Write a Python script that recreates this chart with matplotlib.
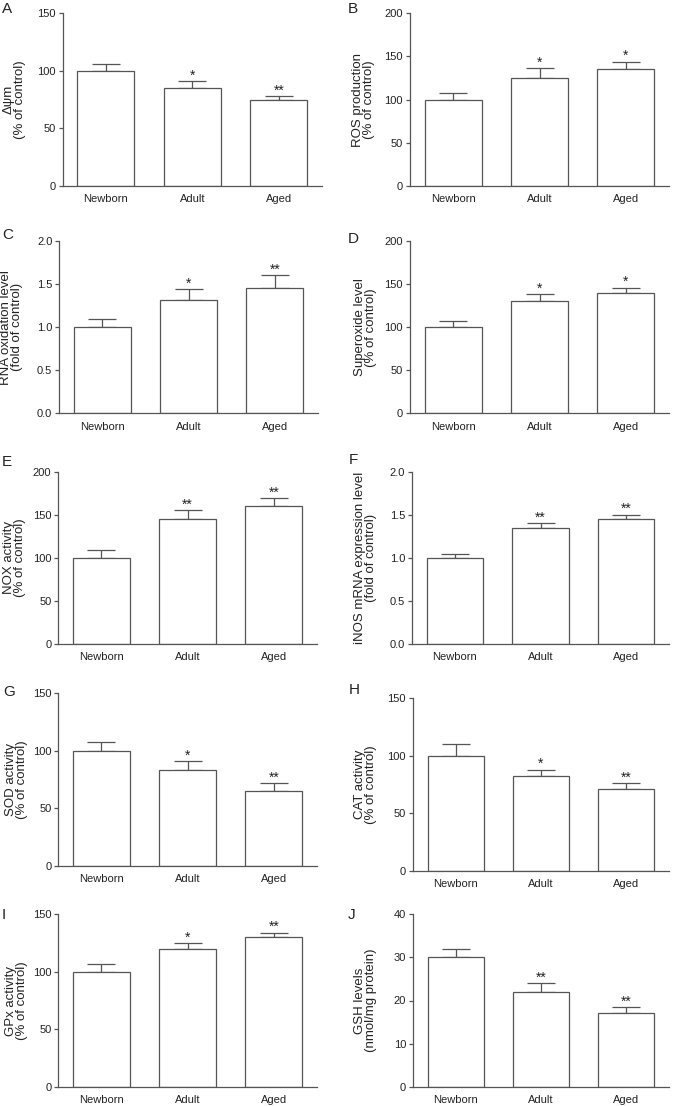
import matplotlib
matplotlib.use("Agg")
import matplotlib.pyplot as plt
import numpy as np

plt.rcParams["font.family"] = ["Liberation Sans", "DejaVu Sans"]

groups = ["Newborn", "Adult", "Aged"]

# panel A: mitochondrial membrane potential
mmp_mean = [100, 85, 75]
mmp_err = [6, 6, 3]
mmp_sig = ["", "*", "**"]
# panel B: ROS production
ros_mean = [100, 125, 135]
ros_err = [8, 11, 9]
ros_sig = ["", "*", "*"]
# panel C: RNA oxidation
rna_mean = [1.0, 1.32, 1.45]
rna_err = [0.10, 0.12, 0.15]
rna_sig = ["", "*", "**"]
# panel D: superoxide
sup_mean = [100, 130, 140]
sup_err = [7, 8, 6]
sup_sig = ["", "*", "*"]
# panel E: NOX activity
nox_mean = [100, 145, 160]
nox_err = [9, 10, 9]
nox_sig = ["", "**", "**"]
# panel F: iNOS mRNA
inos_mean = [1.0, 1.35, 1.45]
inos_err = [0.04, 0.05, 0.05]
inos_sig = ["", "**", "**"]
# panel G: SOD activity
sod_mean = [100, 83, 65]
sod_err = [8, 8, 7]
sod_sig = ["", "*", "**"]
# panel H: CAT activity
cat_mean = [100, 82, 71]
cat_err = [10, 6, 5]
cat_sig = ["", "*", "**"]
# panel I: GPx activity
gpx_mean = [100, 120, 130]
gpx_err = [7, 5, 4]
gpx_sig = ["", "*", "**"]
# panel J: GSH levels
gsh_mean = [30, 22, 17]
gsh_err = [2, 2, 1.5]
gsh_sig = ["", "**", "**"]

W, H = 673, 1106
AX_H = 172.4
LINE = "#555555"
TEXT = "#222222"

# letter, y label, data, y max, tick step, tick format,
# axes (left px, top px, width px), y label right edge px, letter position px
panels = [
    ("A", "Δψm\n(% of control)", mmp_mean, mmp_err, mmp_sig, 150, 50, "%d",
     (62.7, 13.3, 259.3), 26, (2, 2)),
    ("B", "ROS production\n(% of control)", ros_mean, ros_err, ros_sig, 200, 50, "%d",
     (410, 13.3, 259), 375, (348, 2)),
    ("C", "RNA oxidation level\n(fold of control)", rna_mean, rna_err, rna_sig, 2.0, 0.5, "%.1f",
     (59.3, 241, 258.7), 23, (2, 228)),
    ("D", "Superoxide level\n(% of control)", sup_mean, sup_err, sup_sig, 200, 50, "%d",
     (410, 241, 259), 377, (348, 232)),
    ("E", "NOX activity\n(% of control)", nox_mean, nox_err, nox_sig, 200, 50, "%d",
     (58.3, 471.7, 258.7), 26, (2, 455)),
    ("F", "iNOS mRNA expression level\n(fold of control)", inos_mean, inos_err, inos_sig, 2.0, 0.5, "%.1f",
     (412, 471.7, 257), 377, (349, 453)),
    ("G", "SOD activity\n(% of control)", sod_mean, sod_err, sod_sig, 150, 50, "%d",
     (58.3, 693.3, 258.7), 28, (3, 685)),
    ("H", "CAT activity\n(% of control)", cat_mean, cat_err, cat_sig, 150, 50, "%d",
     (413, 698.3, 256), 377, (349, 683)),
    ("I", "GPx activity\n(% of control)", gpx_mean, gpx_err, gpx_sig, 150, 50, "%d",
     (58.3, 914.3, 258.7), 28, (2, 908)),
    ("J", "GSH levels\n(nmol/mg protein)", gsh_mean, gsh_err, gsh_sig, 40, 10, "%d",
     (413, 914.3, 256), 377, (348, 908)),
]

fig = plt.figure(figsize=(W / 100, H / 100), dpi=100)

for letter, ylabel, mean, err, sig, ymax, step, fmt, rect, lab_x, lpos in panels:
    left, top, width = rect
    ax = fig.add_axes([left / W, 1 - (top + AX_H) / H, width / W, AX_H / H])
    x = np.arange(len(groups))
    ax.bar(x, mean, width=0.66, color="white", edgecolor=LINE, linewidth=0.9, zorder=2)
    ax.errorbar(x, mean, yerr=[np.zeros(len(mean)), err], fmt="none", ecolor=LINE,
                elinewidth=0.9, capsize=10, capthick=0.9, zorder=1)
    for xi, m, e, s in zip(x, mean, err, sig):
        if s:
            ax.annotate(s, (xi, m + e), xytext=(0, -1), textcoords="offset points",
                        ha="center", va="bottom", fontsize=10, color=TEXT)
    ax.set_xlim(-0.5, 2.5)
    ax.set_ylim(0, ymax)
    ax.set_yticks(np.arange(0, ymax + step / 2, step))
    ax.yaxis.set_major_formatter(matplotlib.ticker.FormatStrFormatter(fmt))
    ax.set_xticks(x)
    ax.set_xticklabels(groups)
    ax.spines["top"].set_visible(False)
    ax.spines["right"].set_visible(False)
    for sp in ("left", "bottom"):
        ax.spines[sp].set_color(LINE)
        ax.spines[sp].set_linewidth(0.9)
    ax.tick_params(axis="y", length=3, width=0.9, color=LINE, pad=2, labelsize=8,
                   labelcolor=TEXT)
    ax.tick_params(axis="x", length=0, pad=6, labelsize=8, labelcolor=TEXT)
    ax.set_ylabel(ylabel, fontsize=9.5, linespacing=0.9, color=TEXT)
    ax.yaxis.set_label_coords((lab_x - left) / width, 0.5)
    fig.text(lpos[0] / W, 1 - lpos[1] / H, letter, fontsize=11, ha="left", va="top",
             color=TEXT)

fig.savefig("out.png", dpi=100)
